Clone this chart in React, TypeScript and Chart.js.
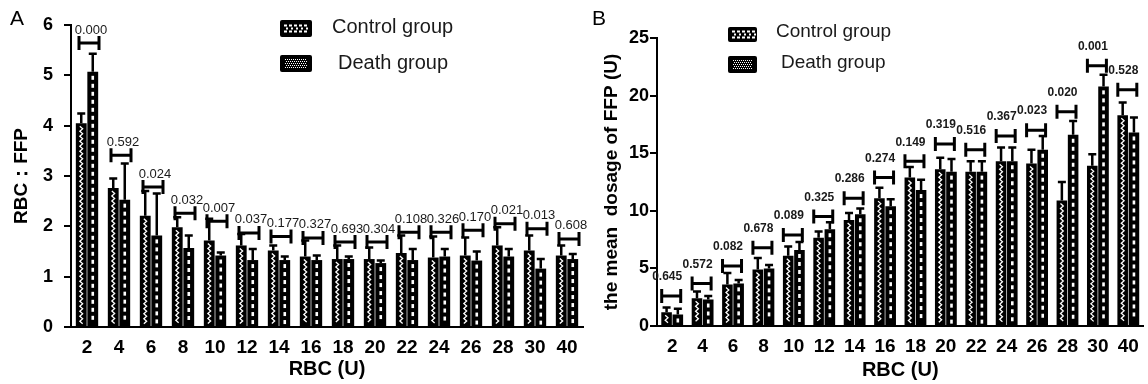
import React, { useEffect, useRef } from 'react';
import { Chart, registerables } from 'chart.js';

Chart.register(...registerables);

// ---------------- data ----------------
const categories = ['2', '4', '6', '8', '10', '12', '14', '16', '18', '20', '22', '24', '26', '28', '30', '40'];
const seriesNames = ['Control group', 'Death group'];

// Panel A: RBC:FFP ratio
const controlA = [4.05, 2.76, 2.21, 1.98, 1.72, 1.62, 1.52, 1.40, 1.35, 1.35, 1.47, 1.38, 1.42, 1.62, 1.52, 1.42];
const deathA = [5.07, 2.53, 1.82, 1.57, 1.42, 1.33, 1.33, 1.33, 1.35, 1.27, 1.33, 1.40, 1.32, 1.40, 1.16, 1.35];
const controlErrA = [0.19, 0.19, 0.49, 0.20, 0.43, 0.23, 0.10, 0.32, 0.27, 0.23, 0.35, 0.42, 0.36, 0.36, 0.30, 0.20];
const deathErrA = [0.36, 0.72, 0.83, 0.25, 0.06, 0.22, 0.07, 0.09, 0.05, 0.05, 0.22, 0.15, 0.18, 0.15, 0.19, 0.10];
const bracketA = [5.64, 3.41, 2.78, 2.26, 2.10, 1.87, 1.80, 1.77, 1.69, 1.69, 1.88, 1.88, 1.92, 2.05, 1.95, 1.75];
const pValuesA = ['0.000', '0.592', '0.024', '0.032', '0.007', '0.037', '0.177', '0.327', '0.693', '0.304', '0.108', '0.326', '0.170', '0.021', '0.013', '0.608'];
const yTicksA = [0, 1, 2, 3, 4, 5, 6];

// Panel B: mean dosage of FFP (U)
const controlB = [1.2, 2.4, 3.6, 4.9, 6.1, 7.65, 9.2, 11.1, 12.9, 13.6, 13.4, 14.3, 14.1, 10.9, 13.9, 18.3];
const deathB = [1.0, 2.3, 3.7, 5.0, 6.6, 8.4, 9.7, 10.4, 11.8, 13.4, 13.4, 14.3, 15.3, 16.6, 20.8, 16.8];
const controlErrB = [0.4, 0.6, 1.0, 1.0, 0.8, 0.55, 0.6, 0.9, 0.9, 1.0, 0.9, 1.2, 1.2, 1.6, 1.0, 1.1];
const deathErrB = [0.5, 0.3, 0.3, 0.3, 0.7, 0.6, 0.5, 0.6, 0.9, 1.1, 0.9, 1.2, 1.2, 1.2, 1.0, 1.3];
const bracketB = [2.6, 3.7, 5.2, 6.8, 7.9, 9.5, 11.1, 12.9, 14.3, 15.8, 15.3, 16.5, 17.0, 18.6, 22.6, 20.5];
const pValuesB = ['0.645', '0.572', '0.082', '0.678', '0.089', '0.325', '0.286', '0.274', '0.149', '0.319', '0.516', '0.367', '0.023', '0.020', '0.001', '0.528'];
const yTicksB = [0, 5, 10, 15, 20, 25];

const FONT = "'Liberation Sans', Arial, Helvetica, sans-serif";

type Panel = {
  letter: string;
  ctrl: number[];
  death: number[];
  ctrlErr: number[];
  deathErr: number[];
  brackets: number[];
  pvals: string[];
  yTicks: number[];
  yTitle: string;
  width: number;
  left: number;
  pad: { left: number; right: number; top: number; bottom: number };
  yWidth: number;
  xHeight: number;
  yTitleFont: number;
  yTitlePad: number;
  yTickFont: number;
  yTickLen: number;
  yTickPad: number;
  xTickFont: number;
  xTickPad: number;
  xTitleFont: number;
  xTitlePad: number;
  catPct: number;
  brHalf: number;
  brOff: number;
  lblOff: number;
  lblGap: number;
  lblFont: string;
  letterPos: [number, number];
  legend: { icon: [number, number, number, number]; textX: number; textY: number }[];
  legendFont: number;
};

function roundRect(ctx: CanvasRenderingContext2D, x: number, y: number, w: number, h: number, r: number) {
  ctx.beginPath();
  ctx.moveTo(x + r, y);
  ctx.lineTo(x + w - r, y);
  ctx.quadraticCurveTo(x + w, y, x + w, y + r);
  ctx.lineTo(x + w, y + h - r);
  ctx.quadraticCurveTo(x + w, y + h, x + w - r, y + h);
  ctx.lineTo(x + r, y + h);
  ctx.quadraticCurveTo(x, y + h, x, y + h - r);
  ctx.lineTo(x, y + r);
  ctx.quadraticCurveTo(x, y, x + r, y);
  ctx.closePath();
}

function makeDecor(p: Panel) {
  return {
    id: 'decor',
    afterDatasetsDraw(chart: any) {
      const ctx: CanvasRenderingContext2D = chart.ctx;
      const xs = chart.scales.x;
      const ys = chart.scales.y;
      ctx.save();
      [0, 1].forEach((di) => {
        const meta = chart.getDatasetMeta(di);
        const vals = di === 0 ? p.ctrl : p.death;
        const errs = di === 0 ? p.ctrlErr : p.deathErr;
        meta.data.forEach((el: any, j: number) => {
          const { x, y, base } = el.getProps(['x', 'y', 'base', 'width'], true);
          const top = Math.min(y, base);
          const bottom = Math.max(y, base);
          // inner white pattern
          ctx.save();
          if (di === 0) {
            ctx.strokeStyle = '#fff';
            ctx.lineWidth = 1.3;
            ctx.beginPath();
            let k = 0;
            for (let yy = top + 3; yy < bottom - 2; yy += 2.5) {
              const xx = x + (k % 2 === 0 ? -1.4 : 1.4);
              if (k === 0) ctx.moveTo(xx, yy);
              else ctx.lineTo(xx, yy);
              k++;
            }
            ctx.stroke();
          } else {
            ctx.fillStyle = '#fff';
            for (let yy = top + 4; yy + 4 < bottom - 1; yy += 8) {
              ctx.fillRect(x - 1.3, yy, 2.6, 4);
            }
          }
          ctx.restore();
          // error bar
          const yt = ys.getPixelForValue(vals[j] + errs[j]);
          ctx.strokeStyle = '#000';
          ctx.lineWidth = 2.5;
          ctx.beginPath();
          ctx.moveTo(x, top);
          ctx.lineTo(x, yt);
          ctx.moveTo(x - 4, yt);
          ctx.lineTo(x + 4, yt);
          ctx.stroke();
        });
      });
      // significance brackets
      ctx.strokeStyle = '#000';
      ctx.lineWidth = 3;
      ctx.fillStyle = '#1a1a1a';
      ctx.font = p.lblFont;
      ctx.textAlign = 'center';
      ctx.textBaseline = 'middle';
      p.brackets.forEach((b, j) => {
        const xc = xs.getPixelForValue(j) + p.brOff;
        const yb = ys.getPixelForValue(b);
        ctx.beginPath();
        ctx.moveTo(xc - p.brHalf, yb);
        ctx.lineTo(xc + p.brHalf, yb);
        ctx.moveTo(xc - p.brHalf, yb - 7);
        ctx.lineTo(xc - p.brHalf, yb + 7);
        ctx.moveTo(xc + p.brHalf, yb - 7);
        ctx.lineTo(xc + p.brHalf, yb + 7);
        ctx.stroke();
        ctx.fillText(p.pvals[j], xc + p.lblOff, yb - p.lblGap);
      });
      ctx.restore();
    },
    afterDraw(chart: any) {
      const ctx: CanvasRenderingContext2D = chart.ctx;
      ctx.save();
      // panel letter
      ctx.fillStyle = '#000';
      ctx.font = `21px ${FONT}`;
      ctx.textAlign = 'left';
      ctx.textBaseline = 'alphabetic';
      ctx.fillText(p.letter, p.letterPos[0], p.letterPos[1]);
      // legend
      p.legend.forEach((lg, i) => {
        const [ix, iy, iw, ih] = lg.icon;
        ctx.fillStyle = '#000';
        roundRect(ctx, ix, iy, iw, ih, 2);
        ctx.fill();
        ctx.fillStyle = '#fff';
        if (i === 0) {
          for (let xx = ix + 4; xx < ix + iw - 4; xx += 5) {
            ctx.fillRect(xx, iy + ih / 2 - 4, 3, 2);
            ctx.fillRect(xx, iy + ih / 2 + 2, 3, 2);
            ctx.fillRect(xx + 2, iy + ih / 2 - 1, 2, 2);
          }
        } else {
          for (let yy = iy + 4; yy < iy + ih - 4; yy += 2) {
            for (let xx = ix + 5 + ((yy - iy) % 4 === 0 ? 0 : 1); xx < ix + iw - 5; xx += 2) {
              ctx.fillRect(xx, yy, 1, 1);
            }
          }
        }
        ctx.fillStyle = '#1a1a1a';
        ctx.font = `${p.legendFont}px ${FONT}`;
        ctx.textBaseline = 'middle';
        ctx.fillText(seriesNames[i], lg.textX, lg.textY);
      });
      ctx.restore();
    },
  };
}

function buildConfig(p: Panel): any {
  return {
    type: 'bar',
    data: {
      labels: categories,
      datasets: [
        { label: seriesNames[0], data: p.ctrl, backgroundColor: '#000', borderWidth: 0, barPercentage: 0.94, categoryPercentage: p.catPct },
        { label: seriesNames[1], data: p.death, backgroundColor: '#000', borderWidth: 0, barPercentage: 0.94, categoryPercentage: p.catPct },
      ],
    },
    options: {
      responsive: false,
      animation: false,
      devicePixelRatio: 1,
      layout: { padding: p.pad },
      plugins: { legend: { display: false }, tooltip: { enabled: false }, title: { display: false } },
      scales: {
        x: {
          type: 'category',
          offset: true,
          grid: { display: false, drawTicks: false },
          border: { display: true, color: '#000', width: 2 },
          ticks: { color: '#000', font: { family: FONT, size: p.xTickFont, weight: 'bold' }, padding: p.xTickPad, maxRotation: 0, autoSkip: false },
          title: { display: true, text: 'RBC (U)', color: '#000', font: { family: FONT, size: p.xTitleFont, weight: 'bold' }, padding: { top: 0, bottom: p.xTitlePad } },
          afterFit: (s: any) => { s.height = p.xHeight; },
        },
        y: {
          min: p.yTicks[0],
          max: p.yTicks[p.yTicks.length - 1],
          afterBuildTicks: (s: any) => { s.ticks = p.yTicks.map((v) => ({ value: v })); },
          grid: { display: true, drawOnChartArea: false, drawTicks: true, tickLength: p.yTickLen, color: '#000', lineWidth: 2 },
          border: { display: true, color: '#000', width: 2 },
          ticks: { color: '#000', font: { family: FONT, size: p.yTickFont, weight: 'bold' }, padding: p.yTickPad },
          title: { display: true, text: p.yTitle, color: '#000', font: { family: FONT, size: p.yTitleFont, weight: 'bold' }, padding: { top: p.yTitlePad, bottom: 0 } },
          afterFit: (s: any) => { s.width = p.yWidth; },
        },
      },
    },
    plugins: [makeDecor(p)],
  };
}

const panelA: Panel = {
  letter: 'A',
  ctrl: controlA,
  death: deathA,
  ctrlErr: controlErrA,
  deathErr: deathErrA,
  brackets: bracketA,
  pvals: pValuesA,
  yTicks: yTicksA,
  yTitle: 'RBC：FFP',
  width: 590,
  left: 0,
  pad: { left: 0, right: 7, top: 25, bottom: 0 },
  yWidth: 71,
  xHeight: 57,
  yTitleFont: 19,
  yTitlePad: 10,
  yTickFont: 18,
  yTickLen: 7,
  yTickPad: 11,
  xTickFont: 19,
  xTickPad: 9,
  xTitleFont: 20,
  xTitlePad: 3,
  catPct: 0.72,
  brHalf: 10,
  brOff: 2,
  lblOff: 2,
  lblGap: 13,
  lblFont: `13px ${FONT}`,
  letterPos: [10, 25],
  legend: [
    { icon: [280, 20, 32, 17], textX: 332, textY: 27 },
    { icon: [280, 55, 32, 17], textX: 338, textY: 63 },
  ],
  legendFont: 20,
};

const panelB: Panel = {
  letter: 'B',
  ctrl: controlB,
  death: deathB,
  ctrlErr: controlErrB,
  deathErr: deathErrB,
  brackets: bracketB,
  pvals: pValuesB,
  yTicks: yTicksB,
  yTitle: 'the mean  dosage of FFP (U)',
  width: 568,
  left: 580,
  pad: { left: 0, right: 4, top: 38, bottom: 0 },
  yWidth: 77,
  xHeight: 58,
  yTitleFont: 19,
  yTitlePad: 20,
  yTickFont: 18,
  yTickLen: 7,
  yTickPad: 1,
  xTickFont: 19,
  xTickPad: 9,
  xTitleFont: 20,
  xTitlePad: 2,
  catPct: 0.74,
  brHalf: 9.5,
  brOff: -1,
  lblOff: -4,
  lblGap: 19,
  lblFont: `bold 12px ${FONT}`,
  letterPos: [12, 25],
  legend: [
    { icon: [148, 27, 29, 15], textX: 196, textY: 32 },
    { icon: [148, 56, 29, 17], textX: 201, textY: 63 },
  ],
  legendFont: 19,
};

function ChartPanel({ panel }: { panel: Panel }) {
  const ref = useRef<HTMLCanvasElement | null>(null);
  useEffect(() => {
    if (!ref.current) return;
    const chart = new Chart(ref.current, buildConfig(panel));
    return () => chart.destroy();
  }, [panel]);
  return (
    <canvas
      ref={ref}
      width={panel.width}
      height={384}
      style={{ position: 'absolute', left: panel.left, top: 0, width: panel.width, height: 384 }}
    />
  );
}

export default function App() {
  return (
    <div style={{ position: 'absolute', left: 0, top: 0, width: 1148, height: 384, background: '#fff', overflow: 'hidden' }}>
      <ChartPanel panel={panelA} />
      <ChartPanel panel={panelB} />
    </div>
  );
}
